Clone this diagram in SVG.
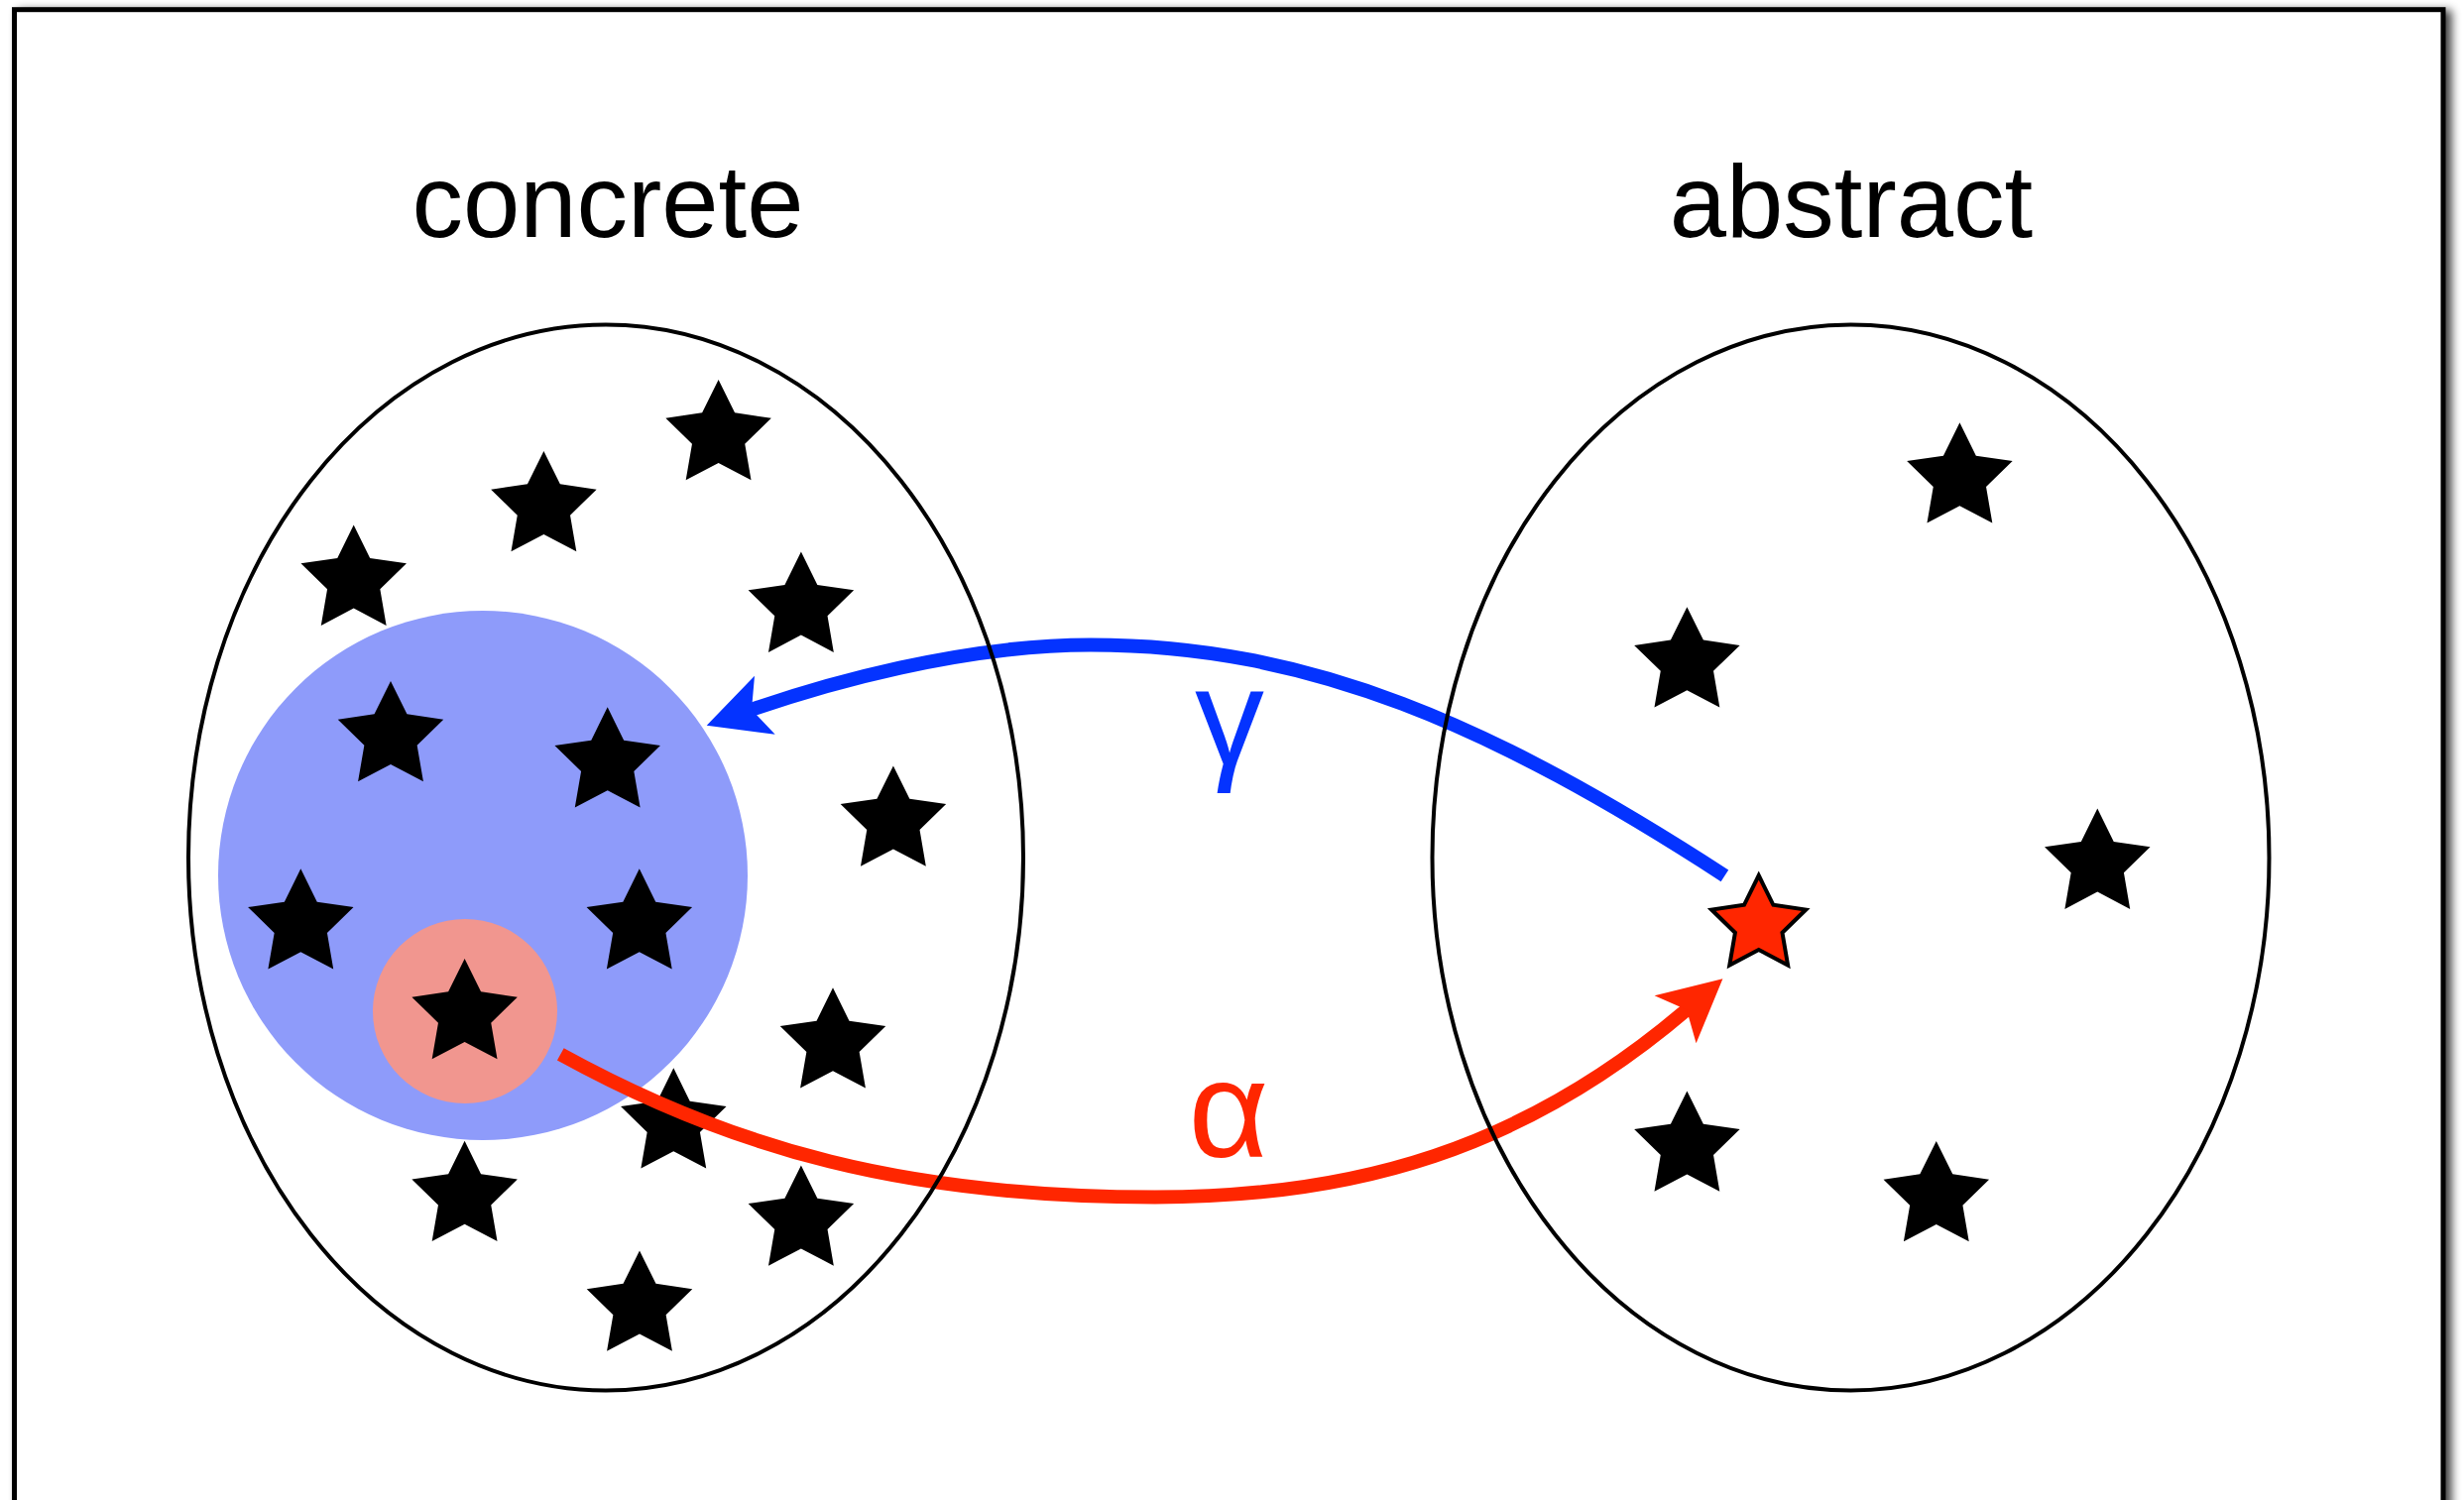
<svg xmlns="http://www.w3.org/2000/svg" xmlns:xlink="http://www.w3.org/1999/xlink" width="2485" height="1513" viewBox="0 0 2485 1513">
  <style>
    .set { fill: none; stroke: #000; stroke-width: 4; }
    .star { fill: #000; }
    .redstar { fill: #ff2600; stroke: #000; stroke-width: 4.5; stroke-linejoin: miter; }
    .title { font-family: "Liberation Sans", Arial, sans-serif; font-size: 103px; fill: #000; text-anchor: middle; }
    .greek { font-family: "Liberation Sans", Arial, sans-serif; font-size: 140px; text-anchor: middle; }
    .gamma { stroke: #0433ff; }
    .alpha { stroke: #ff2600; }
    .edge { fill: none; stroke-width: 14; stroke-linecap: butt; }
  </style>
  <defs>
    <path id="starShape" d="M0,-56 L16.46,-22.65 L53.26,-17.3 L26.63,8.65 L32.92,45.3 L0,28 L-32.92,45.3 L-26.63,8.65 L-53.26,-17.3 L-16.46,-22.65 Z"/>
    <filter id="shadow" x="-2%" y="-2%" width="104%" height="104%">
      <feGaussianBlur in="SourceAlpha" stdDeviation="5"/>
      <feOffset dx="6" dy="3" result="b"/>
      <feComponentTransfer in="b" result="s"><feFuncA type="linear" slope="0.75"/></feComponentTransfer>
      <feMerge><feMergeNode in="s"/><feMergeNode in="SourceGraphic"/></feMerge>
    </filter>
  </defs>

  <rect x="0" y="0" width="2485" height="1513" fill="#fff"/>
  <g id="frame">
    <rect x="14.5" y="9.7" width="2449.5" height="1600" fill="#fff" stroke="#000" stroke-width="5" filter="url(#shadow)"/>
  </g>

  <g id="labels">
    <text class="title" x="613" y="239">concrete</text>
    <text class="title" x="1867" y="239">abstract</text>
  </g>

  <g id="gamma-set">
    <circle cx="487" cy="883" r="267" fill="#8e9bfa"/>
  </g>
  <g id="alpha-point">
    <circle cx="469" cy="1020" r="93" fill="#f1968f"/>
  </g>

  <g id="concrete-stars" class="star">
    <use xlink:href="#starShape" transform="translate(724.6,439)"/>
    <use xlink:href="#starShape" transform="translate(548.4,511)"/>
    <use xlink:href="#starShape" transform="translate(356.7,585.6)"/>
    <use xlink:href="#starShape" transform="translate(807.9,612.6)"/>
    <use xlink:href="#starShape" transform="translate(394,743)"/>
    <use xlink:href="#starShape" transform="translate(612.7,769.3)"/>
    <use xlink:href="#starShape" transform="translate(900.9,828.4)"/>
    <use xlink:href="#starShape" transform="translate(303.3,932.3)"/>
    <use xlink:href="#starShape" transform="translate(644.8,932.3)"/>
    <use xlink:href="#starShape" transform="translate(468.6,1023)"/>
    <use xlink:href="#starShape" transform="translate(840,1052.3)"/>
    <use xlink:href="#starShape" transform="translate(679.3,1133.3)"/>
    <use xlink:href="#starShape" transform="translate(468.6,1206.8)"/>
    <use xlink:href="#starShape" transform="translate(807.9,1231.4)"/>
    <use xlink:href="#starShape" transform="translate(645,1317.5)"/>
  </g>

  <g id="abstract-stars" class="star">
    <use xlink:href="#starShape" transform="translate(1976.4,482.3)"/>
    <use xlink:href="#starShape" transform="translate(1701.4,668.2)"/>
    <use xlink:href="#starShape" transform="translate(2115.3,871.6)"/>
    <use xlink:href="#starShape" transform="translate(1701.4,1156.4)"/>
    <use xlink:href="#starShape" transform="translate(1952.8,1207)"/>
  </g>
  <g id="abstract-element">
    <use xlink:href="#starShape" class="redstar" transform="translate(1773.7,933) scale(0.893)"/>
  </g>

  <g id="connectors">
    <g id="gamma-edge">
      <path class="edge gamma" d="M1739.4,883.3 C1504.5,731 1320,650.5 1100,650.5 C970,650.5 831.6,690.1 756.1,716.5"/>
      <polygon fill="#0433ff" points="712.7,731.7 761,681.7 758,715.9 781.7,740.7"/>
      <text class="greek" x="1240" y="771" fill="#0433ff">γ</text>
    </g>
    <g id="alpha-edge">
      <path class="edge alpha" d="M565.3,1063.3 C740.5,1159.7 915,1207.5 1165,1207.5 C1365,1207.5 1535.5,1160.4 1702.5,1017.2"/>
      <polygon fill="#ff2600" points="1737.4,987.3 1668.6,1004.3 1701,1018.5 1710.6,1052.3"/>
      <text class="greek" x="1239" y="1167" fill="#ff2600">α</text>
    </g>
  </g>

  <g id="concrete-set">
    <ellipse class="set" cx="611" cy="865" rx="421" ry="537.5"/>
  </g>
  <g id="abstract-set">
    <ellipse class="set" cx="1866.5" cy="865" rx="422" ry="537.5"/>
  </g>
</svg>
